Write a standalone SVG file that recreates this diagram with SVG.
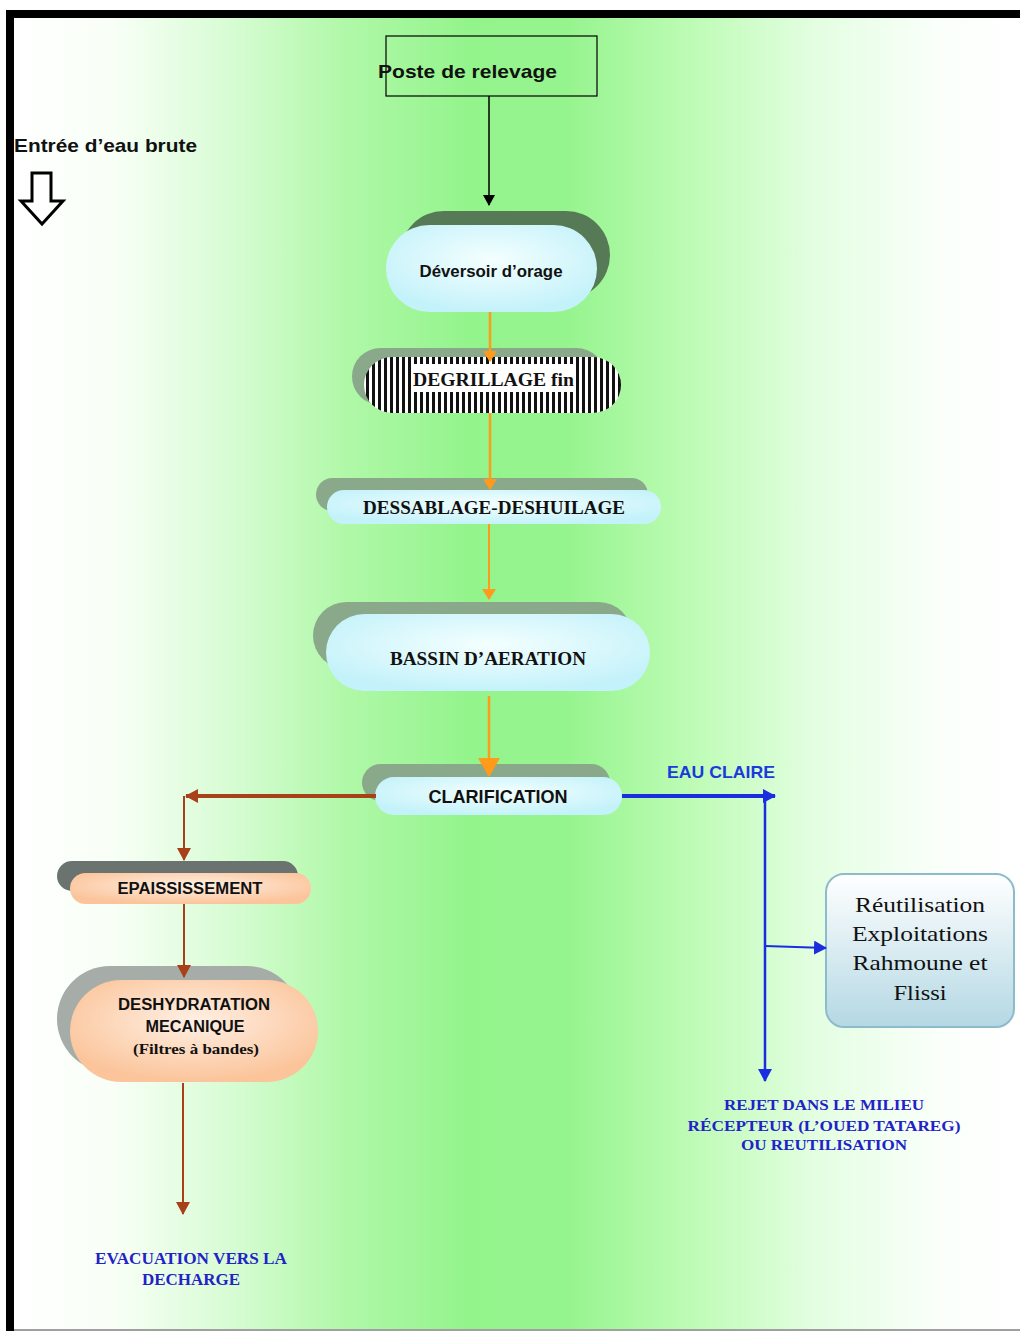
<svg xmlns="http://www.w3.org/2000/svg" width="1020" height="1331" viewBox="0 0 1020 1331">
<defs>
<linearGradient id="bg" x1="14" y1="0" x2="1020" y2="0" gradientUnits="userSpaceOnUse">
<stop offset="0" stop-color="#ffffff"/>
<stop offset="0.1" stop-color="#f8fff6"/>
<stop offset="0.22" stop-color="#d6fcd2"/>
<stop offset="0.33" stop-color="#b0f8a8"/>
<stop offset="0.45" stop-color="#94f48c"/>
<stop offset="0.55" stop-color="#96f48e"/>
<stop offset="0.68" stop-color="#c0fcb8"/>
<stop offset="0.8" stop-color="#e4fee2"/>
<stop offset="0.92" stop-color="#fafffa"/>
<stop offset="1" stop-color="#ffffff"/>
</linearGradient>
<radialGradient id="cyan" cx="0.5" cy="0.4" r="0.6">
<stop offset="0" stop-color="#f4ffff"/>
<stop offset="1" stop-color="#c4f2fa"/>
</radialGradient>
<radialGradient id="peach" cx="0.5" cy="0.4" r="0.6">
<stop offset="0" stop-color="#fff0e4"/>
<stop offset="1" stop-color="#fbc49a"/>
</radialGradient>
<linearGradient id="reuse" x1="0" y1="0" x2="0" y2="1">
<stop offset="0" stop-color="#ffffff"/>
<stop offset="1" stop-color="#b4d8e4"/>
</linearGradient>
<pattern id="stripes" x="0" y="0" width="6" height="10" patternUnits="userSpaceOnUse">
<rect width="6" height="10" fill="#ffffff"/>
<rect width="3" height="10" fill="#111111"/>
</pattern>
<marker id="ablack" markerWidth="12" markerHeight="12" refX="10" refY="6" orient="auto" markerUnits="userSpaceOnUse">
<path d="M0,0 L11,6 L0,12 z" fill="#000"/>
</marker>
<marker id="aorange" markerWidth="12" markerHeight="14" refX="10" refY="7" orient="auto" markerUnits="userSpaceOnUse">
<path d="M0,0 L11,7 L0,14 z" fill="#ff9a1a"/>
</marker>
<marker id="aorangeL" markerWidth="20" markerHeight="22" refX="18" refY="11" orient="auto" markerUnits="userSpaceOnUse">
<path d="M0,0 L19,11 L0,22 z" fill="#ff9a1a"/>
</marker>
<marker id="abrown" markerWidth="14" markerHeight="14" refX="12" refY="7" orient="auto" markerUnits="userSpaceOnUse">
<path d="M0,0 L13,7 L0,14 z" fill="#a8401a"/>
</marker>
<marker id="ablue" markerWidth="14" markerHeight="14" refX="12" refY="7" orient="auto" markerUnits="userSpaceOnUse">
<path d="M0,0 L13,7 L0,14 z" fill="#1a2ee0"/>
</marker>
</defs>
<style>
.sans{font-family:"Liberation Sans",Arial,sans-serif;font-weight:bold;fill:#111}
.serif{font-family:"Liberation Serif","Times New Roman",serif;font-weight:bold;fill:#111}
.blue{fill:#2222c8}
.shadowG{fill:#8aa88a}
.main{fill:url(#cyan)}
</style>

<rect x="0" y="0" width="1020" height="1331" fill="#ffffff"/>
<rect x="14" y="18" width="1006" height="1311" fill="url(#bg)"/>
<rect x="6" y="10" width="1014" height="8" fill="#000"/>
<rect x="6" y="10" width="8" height="1321" fill="#000"/>
<rect x="14" y="1329" width="1006" height="2" fill="#a0a0a0"/>

<g id="entree">
<text class="sans" x="14" y="152" font-size="19" textLength="183" lengthAdjust="spacingAndGlyphs">Entrée d’eau brute</text>
<path d="M32,173 L51,173 L51,201 L63,201 L42,224 L21,201 L32,201 z" fill="#ffffff" stroke="#000" stroke-width="3" stroke-linejoin="miter"/>
</g>

<g id="poste">
<rect x="386" y="36" width="211" height="60" fill="none" stroke="#000" stroke-width="1.2"/>
<text class="sans" x="378" y="78" font-size="19" textLength="179" lengthAdjust="spacingAndGlyphs">Poste de relevage</text>
</g>

<g id="deversoir">
<rect x="400" y="211" width="210" height="88" rx="44" fill="#557a55"/>
<rect x="386" y="225" width="211" height="87" rx="43.5" class="main"/>
<text class="sans" x="491" y="277" font-size="16" text-anchor="middle" textLength="143" lengthAdjust="spacingAndGlyphs">Déversoir d’orage</text>
</g>

<g id="degrillage">
<rect x="352" y="348" width="253" height="57" rx="28.5" class="shadowG"/>
<rect x="364" y="357" width="257" height="56" rx="28" fill="url(#stripes)"/>
<rect x="411" y="364" width="165" height="28" fill="#ffffff"/>
<text class="serif" x="413" y="386" font-size="19" textLength="161" lengthAdjust="spacingAndGlyphs">DEGRILLAGE  fin</text>
</g>

<g id="dessablage">
<rect x="316" y="478" width="332" height="33" rx="16.5" class="shadowG"/>
<rect x="327" y="490" width="334" height="34" rx="17" class="main"/>
<text class="serif" x="494" y="514" font-size="18" text-anchor="middle" textLength="262" lengthAdjust="spacingAndGlyphs">DESSABLAGE-DESHUILAGE</text>
</g>

<g id="bassin">
<rect x="313" y="602" width="319" height="67" rx="33.5" class="shadowG"/>
<rect x="326" y="614" width="324" height="77" rx="38.5" class="main"/>
<text class="serif" x="488" y="665" font-size="18" text-anchor="middle" textLength="196" lengthAdjust="spacingAndGlyphs">BASSIN D’AERATION</text>
</g>

<g id="clarification">
<rect x="362" y="764" width="248" height="37" rx="18.5" class="shadowG"/>
<rect x="375" y="777" width="247" height="38" rx="19" class="main"/>
<text class="sans" x="498" y="803" font-size="18" text-anchor="middle" textLength="139" lengthAdjust="spacingAndGlyphs">CLARIFICATION</text>
</g>

<g id="eau-claire">
<text class="sans" x="667" y="778" font-size="17" textLength="108" lengthAdjust="spacingAndGlyphs" style="fill:#1a3adc">EAU CLAIRE</text>
</g>

<g id="epaississement">
<rect x="57" y="861" width="241" height="30" rx="15" fill="#6a7370"/>
<rect x="70" y="873" width="241" height="31" rx="15.5" fill="url(#peach)"/>
<text class="sans" x="190" y="894" font-size="16" text-anchor="middle" textLength="145" lengthAdjust="spacingAndGlyphs">EPAISSISSEMENT</text>
</g>

<g id="deshydratation">
<rect x="57" y="966" width="243" height="106" rx="53" fill="#a6aca8"/>
<rect x="70" y="980" width="248" height="102" rx="51" fill="url(#peach)"/>
<text class="sans" x="194" y="1010" font-size="16" text-anchor="middle" textLength="152" lengthAdjust="spacingAndGlyphs">DESHYDRATATION</text>
<text class="sans" x="195" y="1032" font-size="16" text-anchor="middle" textLength="99" lengthAdjust="spacingAndGlyphs">MECANIQUE</text>
<text class="serif" x="196" y="1054" font-size="15" text-anchor="middle" textLength="126" lengthAdjust="spacingAndGlyphs">(Filtres à bandes)</text>
</g>

<g id="evacuation">
<text class="serif blue" x="191" y="1264" font-size="16" text-anchor="middle" textLength="192" lengthAdjust="spacingAndGlyphs">EVACUATION VERS LA</text>
<text class="serif blue" x="191" y="1285" font-size="16" text-anchor="middle" textLength="98" lengthAdjust="spacingAndGlyphs">DECHARGE</text>
</g>

<g id="reutilisation">
<rect x="826" y="874" width="188" height="153" rx="18" fill="url(#reuse)" stroke="#8cbccc" stroke-width="2"/>
<g font-family="'Liberation Serif','Times New Roman',serif" font-size="22" fill="#111" text-anchor="middle">
<text x="920" y="912" textLength="130" lengthAdjust="spacingAndGlyphs">Réutilisation</text>
<text x="920" y="941" textLength="136" lengthAdjust="spacingAndGlyphs">Exploitations</text>
<text x="920" y="970" textLength="135" lengthAdjust="spacingAndGlyphs">Rahmoune et</text>
<text x="920" y="1000" textLength="53" lengthAdjust="spacingAndGlyphs">Flissi</text>
</g>
</g>

<g id="rejet">
<text class="serif blue" x="824" y="1110" font-size="15" text-anchor="middle" textLength="200" lengthAdjust="spacingAndGlyphs">REJET DANS LE MILIEU</text>
<text class="serif blue" x="824" y="1131" font-size="15" text-anchor="middle" textLength="273" lengthAdjust="spacingAndGlyphs">RÉCEPTEUR (L’OUED TATAREG)</text>
<text class="serif blue" x="824" y="1150" font-size="15" text-anchor="middle" textLength="166" lengthAdjust="spacingAndGlyphs">OU REUTILISATION</text>
</g>

<g id="connectors">
<line x1="489" y1="96" x2="489" y2="205" stroke="#000" stroke-width="1.5" marker-end="url(#ablack)"/>
<line x1="490" y1="312" x2="490" y2="361" stroke="#ff9a1a" stroke-width="2.5" marker-end="url(#aorange)"/>
<line x1="490" y1="413" x2="490" y2="489" stroke="#ff9a1a" stroke-width="2.5" marker-end="url(#aorange)"/>
<line x1="489" y1="524" x2="489" y2="599" stroke="#ff9a1a" stroke-width="2" marker-end="url(#aorange)"/>
<line x1="489" y1="696" x2="489" y2="776" stroke="#ff9a1a" stroke-width="2.5" marker-end="url(#aorangeL)"/>
<line x1="376" y1="796" x2="186" y2="796" stroke="#a8401a" stroke-width="4" marker-end="url(#abrown)"/>
<line x1="184" y1="796" x2="184" y2="860" stroke="#a8401a" stroke-width="2" marker-end="url(#abrown)"/>
<line x1="184" y1="904" x2="184" y2="977" stroke="#a8401a" stroke-width="2" marker-end="url(#abrown)"/>
<line x1="183" y1="1083" x2="183" y2="1214" stroke="#a8401a" stroke-width="2" marker-end="url(#abrown)"/>
<line x1="622" y1="796" x2="775" y2="796" stroke="#1a2ee0" stroke-width="4" marker-end="url(#ablue)"/>
<line x1="765" y1="796" x2="765" y2="1081" stroke="#1a2ee0" stroke-width="2.5" marker-end="url(#ablue)"/>
<line x1="765" y1="946" x2="826" y2="948" stroke="#1a2ee0" stroke-width="2" marker-end="url(#ablue)"/>
</g>
</svg>
